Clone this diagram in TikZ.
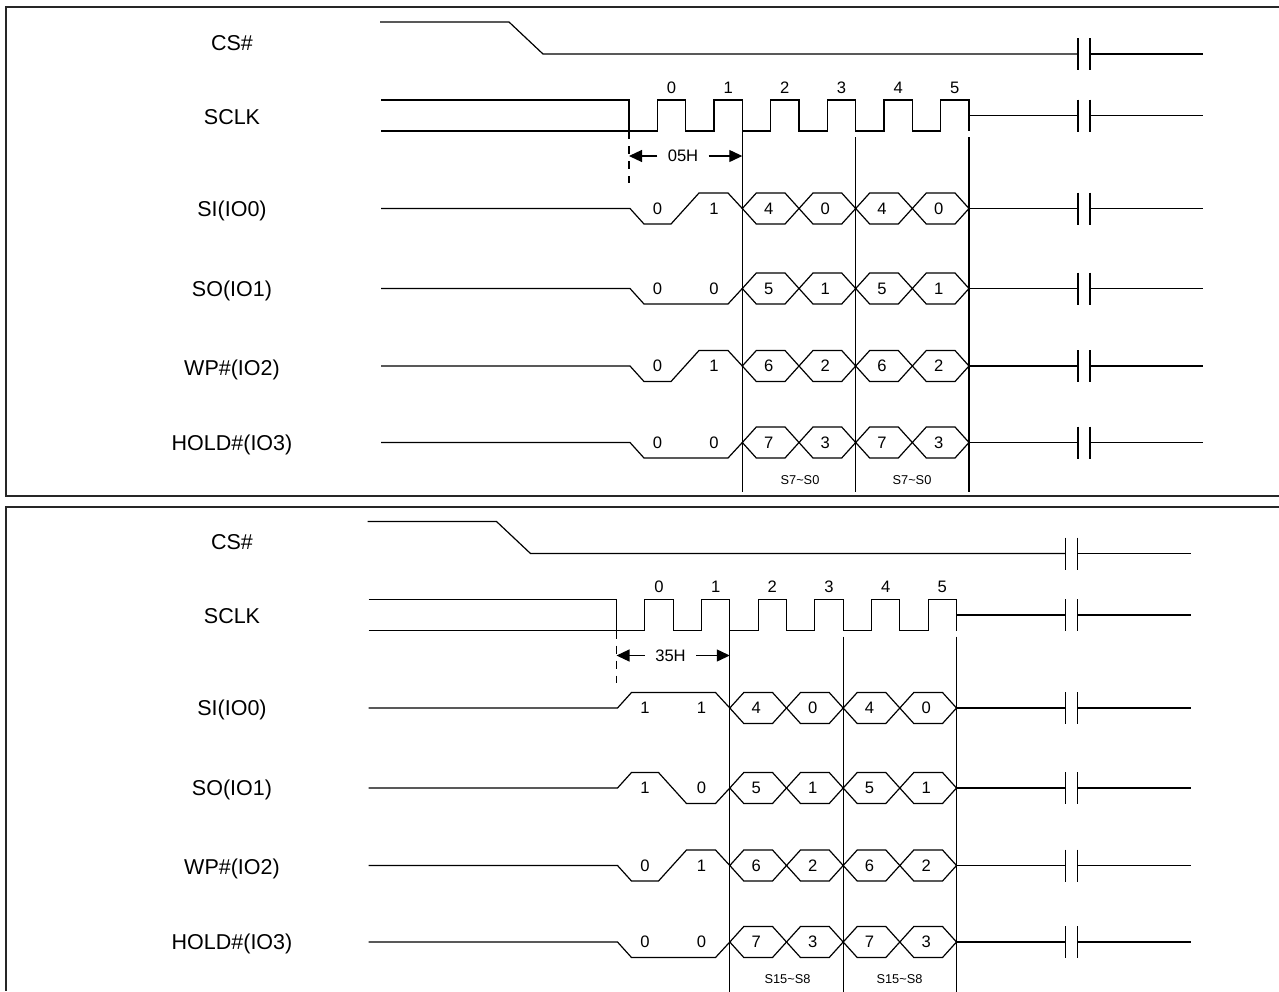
\documentclass[tikz,border=0pt]{standalone}
\usepackage{fontspec}
\setmainfont{Liberation Sans}
\usetikzlibrary{arrows.meta}
\newcommand{\brkmarks}[1]{\draw[sig] (1078,{#1-16}) -- (1078,{#1+16}) (1090,{#1-16}) -- (1090,{#1+16});}
\newcommand{\tailline}[1]{\draw[sig] (969,#1) -- (1078,#1); \brkmarks{#1} \draw[sig] (1090,#1) -- (1203,#1);}
% #1 prefix, #2 centre y, #3 #4 first two bits, #5-#8 nibble values
\newcommand{\databits}[8]{%
  \draw[sig] (381,#2) -- (630,#2) -- (644,{#2+15.5*(1-2*#3)}) -- (671,{#2+15.5*(1-2*#3)})
     -- (699,{#2+15.5*(1-2*#4)}) -- (728,{#2+15.5*(1-2*#4)}) -- (742.3,#2);
  \node[numlbl] (#1b0) at (657.5,#2) {#3};
  \node[numlbl] (#1b1) at (714,#2) {#4};
  \foreach \xa/\xb/\v [count=\i] in {742.3/799/#5, 799/855.7/#6, 855.7/912.3/#7, 912.3/969/#8} {
    \draw[sig] (\xa,#2) -- (\xa+14,{#2-15.5}) -- (\xb-14,{#2-15.5}) -- (\xb,#2)
       -- (\xb-14,{#2+15.5}) -- (\xa+14,{#2+15.5}) -- cycle;
    \node[numlbl] (#1h\i) at ({(\xa+\xb)/2-2},#2) {\v};
  }
  \tailline{#2}
}
% #1 prefix, #2 #3 SI bits, #4 #5 SO bits, #6 hex label, #7 group label
\newcommand{\timingpanel}[7]{%
  % CS#
  \draw[sig] (380,22) -- (509,22) -- (543,54) -- (1078,54);
  \brkmarks{54}
  \draw[sig] (1090,54) -- (1203,54);
  % SCLK
  \draw[sig] (381,100) -- (629,100) -- (629,131);
  \draw[sig] (381,131) -- (629,131)
    \foreach \k in {0,...,5} { -- ({629+(2*\k+1)*28.333},131) -- ({629+(2*\k+1)*28.333},100)
       -- ({629+(2*\k+2)*28.333},100) -- ({629+(2*\k+2)*28.333},131) };
  \draw[sig] (969,115.5) -- (1078,115.5);
  \brkmarks{115.5}
  \draw[sig] (1090,115.5) -- (1203,115.5);
  \foreach \k in {0,...,5} \node[numlbl] (#1clk\k) at ({629+(2*\k+1.5)*28.333},87.5) {\k};
  % command marker
  \draw[sig, dashed, dash pattern=on 4pt off 3.5pt] (629,131) -- (629,183);
  \node[numlbl, inner xsep=5pt] (#1cmd) at (683,156) {#6};
  \coordinate (#1cs) at (629,156);
  \coordinate (#1ce) at (742.3,156);
  \draw[sig, -{Triangle[length=6.5pt,width=6pt]}] (#1cmd.west) -- (#1cs);
  \draw[sig, -{Triangle[length=6.5pt,width=6pt]}] (#1cmd.east) -- (#1ce);
  % boundaries
  \draw[sig] (742.3,131) -- (742.3,492);
  \draw[sig] (855.7,137) -- (855.7,492);
  \draw[sig] (969,137) -- (969,492);
  % data lines
  \databits{#1si}{208.5}{#2}{#3}{4}{0}{4}{0}
  \databits{#1so}{288.5}{#4}{#5}{5}{1}{5}{1}
  \databits{#1wp}{366}{0}{1}{6}{2}{6}{2}
  \databits{#1hd}{442.5}{0}{0}{7}{3}{7}{3}
  \node[grplbl] (#1ga) at (800,480) {#7};
  \node[grplbl] (#1gb) at (912,480) {#7};
}
\begin{document}
\begin{tikzpicture}[x=0.5pt,y=-0.5pt, line join=miter,
  sig/.style={line width=0.6pt, black},
  framel/.style={line width=1pt, black!85},
  namelbl/.style={anchor=base, inner sep=0pt, font=\fontsize{10.75pt}{12pt}\selectfont},
  numlbl/.style={inner sep=0pt, font=\fontsize{8.3pt}{10pt}\selectfont},
  grplbl/.style={inner sep=0pt, font=\fontsize{6.4pt}{8pt}\selectfont}]
\useasboundingbox (0,0) rectangle (1279,991);
% frames
\draw[framel] (1279,7) -- (6,7) -- (6,496) -- (1279,496);
\draw[framel] (1279,507) -- (6,507) -- (6,991);
% signal names
\foreach \dy/\p in {0/t, 499.5/b} {
  \node[namelbl] (\p n1) at (232,{50+\dy}) {CS\#};
  \node[namelbl] (\p n2) at (232,{124+\dy}) {SCLK};
  \node[namelbl] (\p n3) at (232,{216+\dy}) {SI(IO0)};
  \node[namelbl] (\p n4) at (232,{296+\dy}) {SO(IO1)};
  \node[namelbl] (\p n5) at (232,{375+\dy}) {WP\#(IO2)};
  \node[namelbl] (\p n6) at (232,{450+\dy}) {HOLD\#(IO3)};
}
\begin{scope}
  \timingpanel{t}{0}{1}{0}{0}{05H}{S7\textasciitilde S0}
\end{scope}
\begin{scope}[shift={(-12.5,499.5)}]
  \timingpanel{b}{1}{1}{1}{0}{35H}{S15\textasciitilde S8}
\end{scope}
\end{tikzpicture}
\end{document}
